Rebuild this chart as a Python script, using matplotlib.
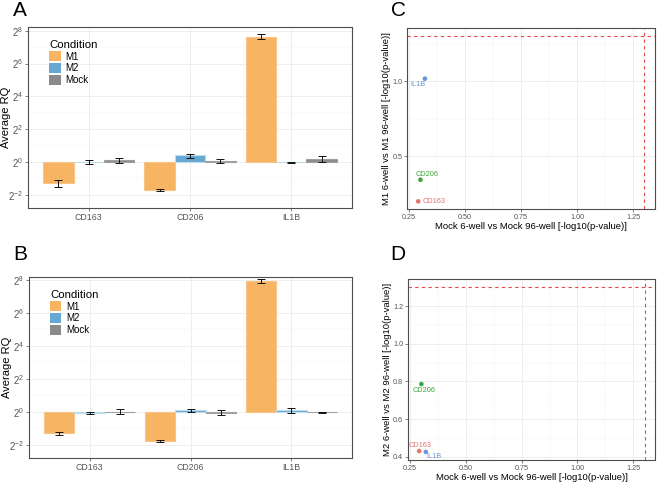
import numpy as np
import matplotlib
matplotlib.use("Agg")
import matplotlib.pyplot as plt
from matplotlib.ticker import FixedLocator, LogFormatterSciNotation, NullFormatter, FixedFormatter
from matplotlib.patches import Patch

plt.rcParams['font.family'] = ['Liberation Sans', 'DejaVu Sans']
plt.rcParams['mathtext.fontset'] = 'custom'
plt.rcParams['mathtext.rm'] = 'Liberation Sans'
plt.rcParams['mathtext.it'] = 'Liberation Sans'

# ---------------- data ----------------
genes = ["CD163", "CD206", "IL1B"]
conditions = ["M1", "M2", "Mock"]
cond_colors = ["#F7B563", "#66A8D3", "#8A8A8A"]
cond_edges = ["#F7C58A", "#BFDCEB", "#A0A0A0"]

# log2(Average RQ) per condition x gene
a_log2 = {"M1": [-1.28, -1.73, 7.62], "M2": [0.00, 0.41, -0.02], "Mock": [0.10, 0.08, 0.16]}
a_lo = {"M1": [-1.53, -1.79, 7.47], "M2": [-0.10, 0.26, -0.07], "Mock": [-0.06, -0.04, -0.02]}
a_hi = {"M1": [-1.08, -1.67, 7.78], "M2": [0.10, 0.51, 0.03], "Mock": [0.26, 0.20, 0.37]}

b_log2 = {"M1": [-1.29, -1.78, 7.94], "M2": [-0.06, 0.10, 0.10], "Mock": [0.00, -0.04, -0.02]}
b_lo = {"M1": [-1.41, -1.84, 7.84], "M2": [-0.11, 0.01, -0.05], "Mock": [-0.15, -0.19, -0.05]}
b_hi = {"M1": [-1.19, -1.72, 8.04], "M2": [-0.01, 0.19, 0.25], "Mock": [0.15, 0.11, 0.01]}

# scatter panels
pt_genes = ["CD163", "CD206", "IL1B"]
pt_colors = ["#E8736C", "#3DA53D", "#6C95D2"]
mock_p = [0.29, 0.30, 0.32]
m1_p = [0.20, 0.344, 1.018]
m2_p = [0.43, 0.786, 0.425]
sig_threshold = -np.log10(0.05)

W, H = 658, 484
fig = plt.figure(figsize=(W / 100, H / 100), dpi=100)


def add_ax(l, r, t, b):
    return fig.add_axes([l / W, 1 - b / H, (r - l) / W, (b - t) / H])


def style_axes(ax):
    for s in ax.spines.values():
        s.set_color('#4D4D4D')
        s.set_linewidth(0.8)
    ax.tick_params(which='major', direction='out', length=2.2, width=0.5, color='#4D4D4D',
                   labelsize=6, labelcolor='#555555', pad=1.5)
    ax.tick_params(which='minor', length=0)
    ax.grid(True, which='major', color='#EBEBEB', lw=0.6, zorder=0)
    ax.grid(True, which='minor', color='#F3F3F3', lw=0.35, zorder=0)
    ax.set_axisbelow(True)


def bar_panel(ax, vals, lo, hi, ylim):
    x = np.arange(len(genes))
    w = 0.3
    for i, c in enumerate(conditions):
        rq = 2.0 ** np.array(vals[c])
        lo_rq = 2.0 ** np.array(lo[c])
        hi_rq = 2.0 ** np.array(hi[c])
        xs = x + (i - 1) * w
        ax.bar(xs, rq - 1, bottom=1, width=w, color=cond_colors[i], edgecolor=cond_edges[i],
               linewidth=0.8, zorder=2, label=c)
        ax.errorbar(xs, rq, yerr=[rq - lo_rq, hi_rq - rq], fmt='none', ecolor='#111111',
                    elinewidth=0.7, capsize=3.2, capthick=0.7, zorder=3)
    ax.set_yscale('log', base=2)
    ax.set_ylim(2.0 ** ylim[0], 2.0 ** ylim[1])
    ax.set_xlim(-0.6, 2.6)
    ax.yaxis.set_major_locator(FixedLocator([2.0 ** k for k in (-2, 0, 2, 4, 6, 8)]))
    ax.yaxis.set_major_formatter(LogFormatterSciNotation(base=2))
    ax.yaxis.set_minor_locator(FixedLocator([2.0 ** k for k in (-1, 1, 3, 5, 7)]))
    ax.yaxis.set_minor_formatter(NullFormatter())
    ax.set_xticks(x)
    ax.set_xticklabels(genes)
    style_axes(ax)
    ax.tick_params(axis='x', labelsize=6.3)
    ax.tick_params(axis='y', labelsize=7)
    ax.set_ylabel("Average RQ", fontsize=8)
    ax.yaxis.set_label_coords(-0.052, 0.5)
    handles = [Patch(facecolor=cond_colors[i], edgecolor='none', label=c) for i, c in enumerate(conditions)]
    ax.legend(handles=handles, title="Condition", loc='upper left', bbox_to_anchor=(0.066, 0.93),
              frameon=False, fontsize=7, title_fontsize=8.2, handlelength=1.15, handleheight=1.15,
              handletextpad=0.5, labelspacing=0.18, borderpad=0, borderaxespad=0, alignment='left')


def scatter_panel(ax, xv, yv, ylim, yticks, ylabel, offsets):
    ax.axhline(sig_threshold, color='#E8474A', lw=0.8, ls=(0, (3, 3)), zorder=2)
    ax.axvline(sig_threshold, color='#E8474A', lw=0.8, ls=(0, (3, 3)), zorder=2)
    ax.scatter(xv, yv, s=11, c=pt_colors, zorder=3, linewidths=0)
    for g, xx, yy, col, (dx, dy, ha) in zip(pt_genes, xv, yv, pt_colors, offsets):
        ax.annotate(g, (xx, yy), xytext=(dx, dy), textcoords='offset points', ha=ha, va='center',
                    fontsize=5.3, color=col)
    ax.set_xlim(0.24, 1.348)
    ax.set_ylim(*ylim)
    xt = [0.25, 0.50, 0.75, 1.00, 1.25]
    ax.xaxis.set_major_locator(FixedLocator(xt))
    ax.xaxis.set_major_formatter(FixedFormatter(["0.25", "0.50", "0.75", "1.00", "1.25"]))
    ax.xaxis.set_minor_locator(FixedLocator([0.375, 0.625, 0.875, 1.125]))
    ax.yaxis.set_major_locator(FixedLocator(yticks))
    ax.yaxis.set_major_formatter(FixedFormatter(["%.1f" % v for v in yticks]))
    step = yticks[1] - yticks[0]
    ax.yaxis.set_minor_locator(FixedLocator([v + step / 2 for v in yticks]))
    style_axes(ax)
    ax.tick_params(labelsize=5.2, pad=1.2)
    ax.set_xlabel("Mock 6-well vs Mock 96-well [-log10(p-value)]", fontsize=6.8, labelpad=1.2)
    ax.set_ylabel(ylabel, fontsize=6.8)
    ax.yaxis.set_label_coords(-0.066, 0.5)


axA = add_ax(28, 352, 27, 208)
bar_panel(axA, a_log2, a_lo, a_hi, (-2.8, 8.23))
axB = add_ax(29, 352, 277, 458)
bar_panel(axB, b_log2, b_lo, b_hi, (-2.79, 8.18))

axC = add_ax(407, 655, 28, 209)
scatter_panel(axC, mock_p, m1_p, (0.149, 1.356), [0.5, 1.0],
              "M1 6-well vs M1 96-well [-log10(p-value)]",
              [(3, 0, 'left'), (5, 3.8, 'center'), (-5, -4, 'center')])
axD = add_ax(408, 655, 279, 460)
scatter_panel(axD, mock_p, m2_p, (0.382, 1.345), [0.4, 0.6, 0.8, 1.0, 1.2],
              "M2 6-well vs M2 96-well [-log10(p-value)]",
              [(1, 4, 'center'), (2, -4.3, 'center'), (6, -3, 'center')])

for lab, (px, py) in zip("ABCD", [(13, 11), (13, 255), (391, 11), (390, 255)]):
    fig.text(px / W, 1 - py / H, lab, fontsize=15, ha='left', va='center', color='black')

fig.savefig("out.png", dpi=100)
